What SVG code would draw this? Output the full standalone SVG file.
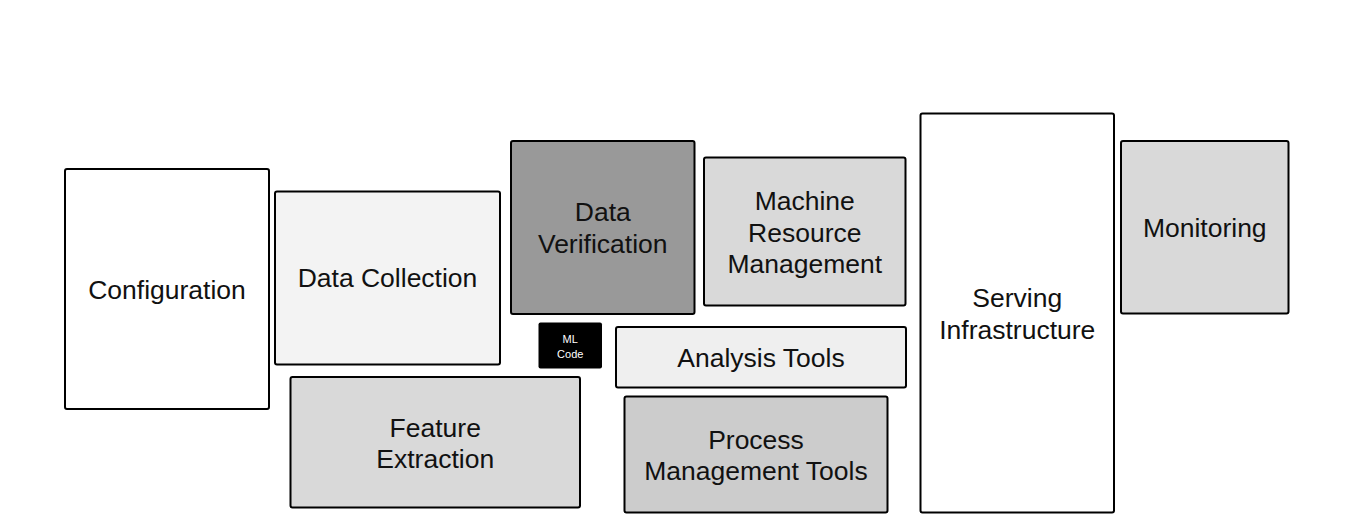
<svg xmlns="http://www.w3.org/2000/svg" width="1362" height="521" viewBox="0 0 1362 521">
<style>
.box{stroke:#000;stroke-width:2;}
.t{font-family:"Liberation Sans",Arial,sans-serif;font-size:26.5px;fill:#111;text-anchor:middle;}
.s{font-family:"Liberation Sans",Arial,sans-serif;font-size:11px;fill:#fff;text-anchor:middle;}
</style>
<rect width="1362" height="521" fill="#fff"/>
<g id="connectors"></g>
<g id="configuration">
<rect class="box" x="65" y="169" width="204" height="240" rx="2" fill="#fff"/>
<text class="t" x="167" y="298.5">Configuration</text>
</g>
<g id="data-collection">
<rect class="box" x="275" y="191.5" width="225" height="173" rx="2" fill="#f3f3f3"/>
<text class="t" x="387.5" y="287">Data Collection</text>
</g>
<g id="data-verification">
<rect class="box" x="511" y="141" width="183.5" height="173" rx="2" fill="#999"/>
<text class="t" x="602.75" y="221">Data</text>
<text class="t" x="602.75" y="252.5">Verification</text>
</g>
<g id="machine-resource-management">
<rect class="box" x="704" y="157.5" width="201.5" height="148" rx="2" fill="#d9d9d9"/>
<text class="t" x="804.75" y="210">Machine</text>
<text class="t" x="804.75" y="241.5">Resource</text>
<text class="t" x="804.75" y="273">Management</text>
</g>
<g id="ml-code">
<rect x="538.5" y="322.5" width="63.5" height="46" rx="2" fill="#000"/>
<text class="s" x="570.25" y="343">ML</text>
<text class="s" x="570.25" y="358">Code</text>
</g>
<g id="analysis-tools">
<rect class="box" x="616" y="327" width="290" height="60.5" rx="2" fill="#efefef"/>
<text class="t" x="761" y="367">Analysis Tools</text>
</g>
<g id="feature-extraction">
<rect class="box" x="290.5" y="377" width="289.5" height="130.5" rx="2" fill="#d9d9d9"/>
<text class="t" x="435.25" y="436.5">Feature</text>
<text class="t" x="435.25" y="468">Extraction</text>
</g>
<g id="process-management-tools">
<rect class="box" x="624.5" y="396.5" width="263" height="116" rx="2" fill="#ccc"/>
<text class="t" x="756" y="448.5">Process</text>
<text class="t" x="756" y="480">Management Tools</text>
</g>
<g id="serving-infrastructure">
<rect class="box" x="920.5" y="113.5" width="193.5" height="399" rx="2" fill="#fff"/>
<text class="t" x="1017.25" y="307">Serving</text>
<text class="t" x="1017.25" y="338.5">Infrastructure</text>
</g>
<g id="monitoring">
<rect class="box" x="1121" y="141" width="167.5" height="172.5" rx="2" fill="#d9d9d9"/>
<text class="t" x="1204.75" y="237">Monitoring</text>
</g>
</svg>
